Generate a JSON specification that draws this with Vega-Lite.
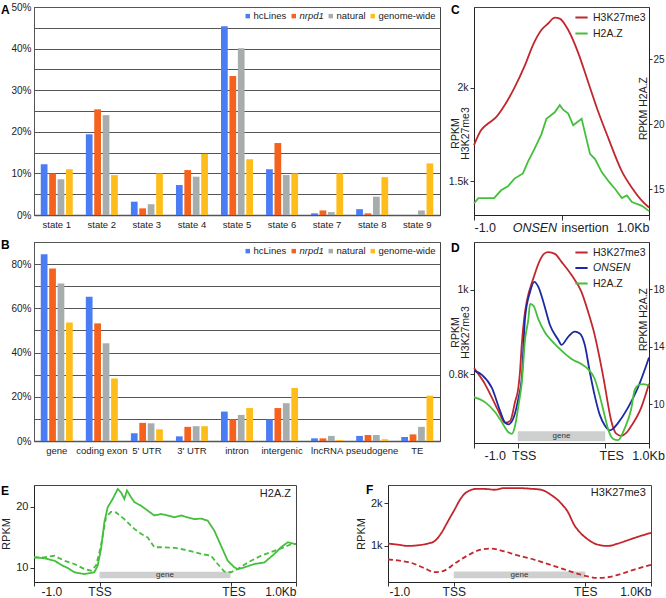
{
 "$schema": "https://vega.github.io/schema/vega-lite/v6.json",
 "background": "white",
 "padding": {"left": 0, "top": 1, "right": 0, "bottom": 0},
 "config": {
  "font": "Liberation Sans",
  "view": {"stroke": "#444", "strokeWidth": 1},
  "axis": {"labelFont": "Liberation Sans", "titleFont": "Liberation Sans", "labelColor": "#222", "titleColor": "#222", "domainColor": "#333", "tickColor": "#333", "grid": false, "titleFontWeight": "normal", "labelOverlap": false, "labelBound": false},
  "legend": {"labelFont": "Liberation Sans", "labelColor": "#222"},
  "title": {"font": "Liberation Sans", "fontWeight": "bold", "fontSize": 12, "anchor": "start", "frame": "group", "offset": 0, "color": "#000"}
 },
 "datasets": {
  "A": [
   {"cat":"state 1","grp":"hcLines","pct":12.2},{"cat":"state 1","grp":"nrpd1","pct":10.0},{"cat":"state 1","grp":"natural","pct":8.6},{"cat":"state 1","grp":"genome-wide","pct":11.0},
   {"cat":"state 2","grp":"hcLines","pct":19.4},{"cat":"state 2","grp":"nrpd1","pct":25.4},{"cat":"state 2","grp":"natural","pct":24.0},{"cat":"state 2","grp":"genome-wide","pct":9.6},
   {"cat":"state 3","grp":"hcLines","pct":3.2},{"cat":"state 3","grp":"nrpd1","pct":1.6},{"cat":"state 3","grp":"natural","pct":2.6},{"cat":"state 3","grp":"genome-wide","pct":10.0},
   {"cat":"state 4","grp":"hcLines","pct":7.2},{"cat":"state 4","grp":"nrpd1","pct":10.8},{"cat":"state 4","grp":"natural","pct":9.2},{"cat":"state 4","grp":"genome-wide","pct":14.7},
   {"cat":"state 5","grp":"hcLines","pct":45.4},{"cat":"state 5","grp":"nrpd1","pct":33.4},{"cat":"state 5","grp":"natural","pct":40.1},{"cat":"state 5","grp":"genome-wide","pct":13.4},
   {"cat":"state 6","grp":"hcLines","pct":11.0},{"cat":"state 6","grp":"nrpd1","pct":17.3},{"cat":"state 6","grp":"natural","pct":9.6},{"cat":"state 6","grp":"genome-wide","pct":10.0},
   {"cat":"state 7","grp":"hcLines","pct":0.4},{"cat":"state 7","grp":"nrpd1","pct":1.1},{"cat":"state 7","grp":"natural","pct":0.7},{"cat":"state 7","grp":"genome-wide","pct":10.0},
   {"cat":"state 8","grp":"hcLines","pct":1.4},{"cat":"state 8","grp":"nrpd1","pct":0.4},{"cat":"state 8","grp":"natural","pct":4.4},{"cat":"state 8","grp":"genome-wide","pct":9.1},
   {"cat":"state 9","grp":"hcLines","pct":0.0},{"cat":"state 9","grp":"nrpd1","pct":0.0},{"cat":"state 9","grp":"natural","pct":1.1},{"cat":"state 9","grp":"genome-wide","pct":12.4}
  ],
  "B": [
   {"cat":"gene","grp":"hcLines","pct":84.5},{"cat":"gene","grp":"nrpd1","pct":78.0},{"cat":"gene","grp":"natural","pct":71.2},{"cat":"gene","grp":"genome-wide","pct":53.6},
   {"cat":"coding exon","grp":"hcLines","pct":65.2},{"cat":"coding exon","grp":"nrpd1","pct":53.2},{"cat":"coding exon","grp":"natural","pct":44.2},{"cat":"coding exon","grp":"genome-wide","pct":28.3},
   {"cat":"5' UTR","grp":"hcLines","pct":3.5},{"cat":"5' UTR","grp":"nrpd1","pct":8.2},{"cat":"5' UTR","grp":"natural","pct":8.0},{"cat":"5' UTR","grp":"genome-wide","pct":5.3},
   {"cat":"3' UTR","grp":"hcLines","pct":2.1},{"cat":"3' UTR","grp":"nrpd1","pct":6.4},{"cat":"3' UTR","grp":"natural","pct":6.7},{"cat":"3' UTR","grp":"genome-wide","pct":6.7},
   {"cat":"intron","grp":"hcLines","pct":13.3},{"cat":"intron","grp":"nrpd1","pct":9.8},{"cat":"intron","grp":"natural","pct":11.8},{"cat":"intron","grp":"genome-wide","pct":14.9},
   {"cat":"intergenic","grp":"hcLines","pct":9.8},{"cat":"intergenic","grp":"nrpd1","pct":14.9},{"cat":"intergenic","grp":"natural","pct":17.1},{"cat":"intergenic","grp":"genome-wide","pct":24.0},
   {"cat":"lncRNA","grp":"hcLines","pct":1.2},{"cat":"lncRNA","grp":"nrpd1","pct":1.2},{"cat":"lncRNA","grp":"natural","pct":2.3},{"cat":"lncRNA","grp":"genome-wide","pct":0.5},
   {"cat":"pseudogene","grp":"hcLines","pct":2.3},{"cat":"pseudogene","grp":"nrpd1","pct":2.7},{"cat":"pseudogene","grp":"natural","pct":2.7},{"cat":"pseudogene","grp":"genome-wide","pct":0.8},
   {"cat":"TE","grp":"hcLines","pct":1.8},{"cat":"TE","grp":"nrpd1","pct":3.0},{"cat":"TE","grp":"natural","pct":6.4},{"cat":"TE","grp":"genome-wide","pct":20.5}
  ],
  "C": [
   {"pos":-1000,"track":"H3K27me3","rpkm":1693},{"pos":-920,"track":"H3K27me3","rpkm":1772},{"pos":-843,"track":"H3K27me3","rpkm":1807},{"pos":-747,"track":"H3K27me3","rpkm":1842},{"pos":-652,"track":"H3K27me3","rpkm":1904},{"pos":-537,"track":"H3K27me3","rpkm":2000},{"pos":-422,"track":"H3K27me3","rpkm":2114},{"pos":-325,"track":"H3K27me3","rpkm":2228},{"pos":-230,"track":"H3K27me3","rpkm":2307},{"pos":-153,"track":"H3K27me3","rpkm":2342},{"pos":-77,"track":"H3K27me3","rpkm":2373},{"pos":-20,"track":"H3K27me3","rpkm":2368},{"pos":77,"track":"H3K27me3","rpkm":2307},{"pos":192,"track":"H3K27me3","rpkm":2184},{"pos":307,"track":"H3K27me3","rpkm":2026},{"pos":422,"track":"H3K27me3","rpkm":1868},{"pos":537,"track":"H3K27me3","rpkm":1728},{"pos":690,"track":"H3K27me3","rpkm":1553},{"pos":805,"track":"H3K27me3","rpkm":1465},{"pos":920,"track":"H3K27me3","rpkm":1395},{"pos":1000,"track":"H3K27me3","rpkm":1360},
   {"pos":-1000,"track":"H2A.Z","rpkm":13.9},{"pos":-950,"track":"H2A.Z","rpkm":14.3},{"pos":-850,"track":"H2A.Z","rpkm":14.3},{"pos":-770,"track":"H2A.Z","rpkm":14.3},{"pos":-690,"track":"H2A.Z","rpkm":14.9},{"pos":-613,"track":"H2A.Z","rpkm":15.2},{"pos":-537,"track":"H2A.Z","rpkm":15.8},{"pos":-441,"track":"H2A.Z","rpkm":16.2},{"pos":-383,"track":"H2A.Z","rpkm":17.1},{"pos":-307,"track":"H2A.Z","rpkm":18.1},{"pos":-230,"track":"H2A.Z","rpkm":19.2},{"pos":-172,"track":"H2A.Z","rpkm":20.4},{"pos":-77,"track":"H2A.Z","rpkm":20.9},{"pos":-20,"track":"H2A.Z","rpkm":21.45},{"pos":19,"track":"H2A.Z","rpkm":21.1},{"pos":77,"track":"H2A.Z","rpkm":20.8},{"pos":134,"track":"H2A.Z","rpkm":19.9},{"pos":230,"track":"H2A.Z","rpkm":20.4},{"pos":326,"track":"H2A.Z","rpkm":17.7},{"pos":383,"track":"H2A.Z","rpkm":17.3},{"pos":460,"track":"H2A.Z","rpkm":16.3},{"pos":537,"track":"H2A.Z","rpkm":15.6},{"pos":613,"track":"H2A.Z","rpkm":15.0},{"pos":690,"track":"H2A.Z","rpkm":14.3},{"pos":747,"track":"H2A.Z","rpkm":14.5},{"pos":805,"track":"H2A.Z","rpkm":14.0},{"pos":920,"track":"H2A.Z","rpkm":13.7},{"pos":1000,"track":"H2A.Z","rpkm":13.3}
  ],
  "D": [
   {"pos":0,"track":"H3K27me3","rpkm":815},{"pos":258,"track":"H3K27me3","rpkm":776},{"pos":409,"track":"H3K27me3","rpkm":745},{"pos":561,"track":"H3K27me3","rpkm":713},{"pos":712,"track":"H3K27me3","rpkm":686},{"pos":826,"track":"H3K27me3","rpkm":690},{"pos":940,"track":"H3K27me3","rpkm":736},{"pos":1016,"track":"H3K27me3","rpkm":770},{"pos":1054,"track":"H3K27me3","rpkm":810},{"pos":1091,"track":"H3K27me3","rpkm":870},{"pos":1150,"track":"H3K27me3","rpkm":935},{"pos":1205,"track":"H3K27me3","rpkm":972},{"pos":1357,"track":"H3K27me3","rpkm":1027},{"pos":1508,"track":"H3K27me3","rpkm":1070},{"pos":1600,"track":"H3K27me3","rpkm":1085},{"pos":1698,"track":"H3K27me3","rpkm":1089},{"pos":1850,"track":"H3K27me3","rpkm":1085},{"pos":2001,"track":"H3K27me3","rpkm":1066},{"pos":2229,"track":"H3K27me3","rpkm":1035},{"pos":2456,"track":"H3K27me3","rpkm":995},{"pos":2608,"track":"H3K27me3","rpkm":948},{"pos":2759,"track":"H3K27me3","rpkm":893},{"pos":2873,"track":"H3K27me3","rpkm":838},{"pos":2987,"track":"H3K27me3","rpkm":776},{"pos":3062,"track":"H3K27me3","rpkm":730},{"pos":3138,"track":"H3K27me3","rpkm":690},{"pos":3252,"track":"H3K27me3","rpkm":660},{"pos":3365,"track":"H3K27me3","rpkm":655},{"pos":3480,"track":"H3K27me3","rpkm":662},{"pos":3593,"track":"H3K27me3","rpkm":678},{"pos":3820,"track":"H3K27me3","rpkm":721},{"pos":4000,"track":"H3K27me3","rpkm":778},
   {"pos":0,"track":"ONSEN","rpkm":809},{"pos":182,"track":"ONSEN","rpkm":799},{"pos":409,"track":"ONSEN","rpkm":768},{"pos":599,"track":"ONSEN","rpkm":713},{"pos":712,"track":"ONSEN","rpkm":686},{"pos":788,"track":"ONSEN","rpkm":682},{"pos":902,"track":"ONSEN","rpkm":697},{"pos":1016,"track":"ONSEN","rpkm":744},{"pos":1092,"track":"ONSEN","rpkm":791},{"pos":1167,"track":"ONSEN","rpkm":933},{"pos":1281,"track":"ONSEN","rpkm":995},{"pos":1380,"track":"ONSEN","rpkm":1019},{"pos":1471,"track":"ONSEN","rpkm":1007},{"pos":1584,"track":"ONSEN","rpkm":972},{"pos":1736,"track":"ONSEN","rpkm":917},{"pos":1925,"track":"ONSEN","rpkm":882},{"pos":2001,"track":"ONSEN","rpkm":870},{"pos":2153,"track":"ONSEN","rpkm":889},{"pos":2304,"track":"ONSEN","rpkm":901},{"pos":2418,"track":"ONSEN","rpkm":897},{"pos":2532,"track":"ONSEN","rpkm":870},{"pos":2645,"track":"ONSEN","rpkm":807},{"pos":2759,"track":"ONSEN","rpkm":750},{"pos":2873,"track":"ONSEN","rpkm":705},{"pos":2987,"track":"ONSEN","rpkm":680},{"pos":3100,"track":"ONSEN","rpkm":668},{"pos":3180,"track":"ONSEN","rpkm":672},{"pos":3290,"track":"ONSEN","rpkm":685},{"pos":3517,"track":"ONSEN","rpkm":721},{"pos":3744,"track":"ONSEN","rpkm":768},{"pos":4000,"track":"ONSEN","rpkm":840},
   {"pos":0,"track":"H2A.Z","rpkm":10.49},{"pos":258,"track":"H2A.Z","rpkm":10.13},{"pos":485,"track":"H2A.Z","rpkm":9.44},{"pos":637,"track":"H2A.Z","rpkm":8.75},{"pos":788,"track":"H2A.Z","rpkm":8.05},{"pos":864,"track":"H2A.Z","rpkm":7.94},{"pos":940,"track":"H2A.Z","rpkm":8.52},{"pos":1016,"track":"H2A.Z","rpkm":9.91},{"pos":1092,"track":"H2A.Z","rpkm":11.5},{"pos":1167,"track":"H2A.Z","rpkm":14.5},{"pos":1243,"track":"H2A.Z","rpkm":15.93},{"pos":1281,"track":"H2A.Z","rpkm":16.98},{"pos":1357,"track":"H2A.Z","rpkm":16.86},{"pos":1471,"track":"H2A.Z","rpkm":15.93},{"pos":1622,"track":"H2A.Z","rpkm":15.0},{"pos":1774,"track":"H2A.Z","rpkm":14.43},{"pos":2001,"track":"H2A.Z","rpkm":13.73},{"pos":2229,"track":"H2A.Z","rpkm":13.15},{"pos":2456,"track":"H2A.Z","rpkm":12.8},{"pos":2608,"track":"H2A.Z","rpkm":12.45},{"pos":2759,"track":"H2A.Z","rpkm":11.76},{"pos":2873,"track":"H2A.Z","rpkm":10.6},{"pos":2987,"track":"H2A.Z","rpkm":9.2},{"pos":3062,"track":"H2A.Z","rpkm":8.3},{"pos":3176,"track":"H2A.Z","rpkm":7.6},{"pos":3290,"track":"H2A.Z","rpkm":7.5},{"pos":3441,"track":"H2A.Z","rpkm":8.3},{"pos":3593,"track":"H2A.Z","rpkm":9.67},{"pos":3669,"track":"H2A.Z","rpkm":10.95},{"pos":3744,"track":"H2A.Z","rpkm":11.3},{"pos":3850,"track":"H2A.Z","rpkm":11.4},{"pos":4000,"track":"H2A.Z","rpkm":11.3}
  ],
  "E": [
   {"pos":0,"genes":"ONSEN-inserted genes","rpkm":11.75},{"pos":158,"genes":"ONSEN-inserted genes","rpkm":11.59},{"pos":310,"genes":"ONSEN-inserted genes","rpkm":11.2},{"pos":438,"genes":"ONSEN-inserted genes","rpkm":10.38},{"pos":514,"genes":"ONSEN-inserted genes","rpkm":10.0},{"pos":616,"genes":"ONSEN-inserted genes","rpkm":9.29},{"pos":769,"genes":"ONSEN-inserted genes","rpkm":9.0},{"pos":921,"genes":"ONSEN-inserted genes","rpkm":9.29},{"pos":972,"genes":"ONSEN-inserted genes","rpkm":10.38},{"pos":1023,"genes":"ONSEN-inserted genes","rpkm":13.1},{"pos":1074,"genes":"ONSEN-inserted genes","rpkm":17.5},{"pos":1125,"genes":"ONSEN-inserted genes","rpkm":19.95},{"pos":1201,"genes":"ONSEN-inserted genes","rpkm":21.3},{"pos":1278,"genes":"ONSEN-inserted genes","rpkm":22.95},{"pos":1328,"genes":"ONSEN-inserted genes","rpkm":22.4},{"pos":1379,"genes":"ONSEN-inserted genes","rpkm":21.3},{"pos":1420,"genes":"ONSEN-inserted genes","rpkm":22.7},{"pos":1481,"genes":"ONSEN-inserted genes","rpkm":21.6},{"pos":1532,"genes":"ONSEN-inserted genes","rpkm":20.8},{"pos":1634,"genes":"ONSEN-inserted genes","rpkm":20.2},{"pos":1736,"genes":"ONSEN-inserted genes","rpkm":19.4},{"pos":1837,"genes":"ONSEN-inserted genes","rpkm":18.6},{"pos":1939,"genes":"ONSEN-inserted genes","rpkm":18.85},{"pos":2041,"genes":"ONSEN-inserted genes","rpkm":18.6},{"pos":2143,"genes":"ONSEN-inserted genes","rpkm":18.3},{"pos":2245,"genes":"ONSEN-inserted genes","rpkm":18.6},{"pos":2346,"genes":"ONSEN-inserted genes","rpkm":18.3},{"pos":2448,"genes":"ONSEN-inserted genes","rpkm":18.0},{"pos":2550,"genes":"ONSEN-inserted genes","rpkm":18.1},{"pos":2652,"genes":"ONSEN-inserted genes","rpkm":17.75},{"pos":2754,"genes":"ONSEN-inserted genes","rpkm":16.1},{"pos":2855,"genes":"ONSEN-inserted genes","rpkm":13.65},{"pos":2957,"genes":"ONSEN-inserted genes","rpkm":11.2},{"pos":3059,"genes":"ONSEN-inserted genes","rpkm":10.1},{"pos":3110,"genes":"ONSEN-inserted genes","rpkm":9.8},{"pos":3212,"genes":"ONSEN-inserted genes","rpkm":10.1},{"pos":3364,"genes":"ONSEN-inserted genes","rpkm":10.65},{"pos":3517,"genes":"ONSEN-inserted genes","rpkm":10.9},{"pos":3670,"genes":"ONSEN-inserted genes","rpkm":12.3},{"pos":3772,"genes":"ONSEN-inserted genes","rpkm":13.4},{"pos":3873,"genes":"ONSEN-inserted genes","rpkm":14.2},{"pos":4000,"genes":"ONSEN-inserted genes","rpkm":13.9},
   {"pos":0,"genes":"all genes","rpkm":11.75},{"pos":158,"genes":"all genes","rpkm":11.75},{"pos":310,"genes":"all genes","rpkm":12.0},{"pos":463,"genes":"all genes","rpkm":11.2},{"pos":616,"genes":"all genes","rpkm":10.65},{"pos":769,"genes":"all genes","rpkm":9.83},{"pos":870,"genes":"all genes","rpkm":9.56},{"pos":947,"genes":"all genes","rpkm":10.38},{"pos":1023,"genes":"all genes","rpkm":13.65},{"pos":1099,"genes":"all genes","rpkm":18.3},{"pos":1176,"genes":"all genes","rpkm":19.2},{"pos":1252,"genes":"all genes","rpkm":19.1},{"pos":1379,"genes":"all genes","rpkm":18.0},{"pos":1532,"genes":"all genes","rpkm":16.4},{"pos":1634,"genes":"all genes","rpkm":15.6},{"pos":1736,"genes":"all genes","rpkm":15.0},{"pos":1837,"genes":"all genes","rpkm":13.4},{"pos":1939,"genes":"all genes","rpkm":13.4},{"pos":2143,"genes":"all genes","rpkm":13.3},{"pos":2346,"genes":"all genes","rpkm":12.9},{"pos":2550,"genes":"all genes","rpkm":12.3},{"pos":2703,"genes":"all genes","rpkm":12.0},{"pos":2805,"genes":"all genes","rpkm":10.65},{"pos":2906,"genes":"all genes","rpkm":9.4},{"pos":3008,"genes":"all genes","rpkm":9.3},{"pos":3110,"genes":"all genes","rpkm":9.83},{"pos":3263,"genes":"all genes","rpkm":10.9},{"pos":3466,"genes":"all genes","rpkm":12.0},{"pos":3670,"genes":"all genes","rpkm":12.8},{"pos":3823,"genes":"all genes","rpkm":13.4},{"pos":3924,"genes":"all genes","rpkm":13.9},{"pos":4000,"genes":"all genes","rpkm":13.9}
  ],
  "F": [
   {"pos":0,"genes":"ONSEN-inserted genes","rpkm":1048},{"pos":147,"genes":"ONSEN-inserted genes","rpkm":1024},{"pos":299,"genes":"ONSEN-inserted genes","rpkm":993},{"pos":451,"genes":"ONSEN-inserted genes","rpkm":1008},{"pos":603,"genes":"ONSEN-inserted genes","rpkm":1048},{"pos":705,"genes":"ONSEN-inserted genes","rpkm":1103},{"pos":806,"genes":"ONSEN-inserted genes","rpkm":1286},{"pos":908,"genes":"ONSEN-inserted genes","rpkm":1563},{"pos":1009,"genes":"ONSEN-inserted genes","rpkm":1841},{"pos":1110,"genes":"ONSEN-inserted genes","rpkm":2119},{"pos":1212,"genes":"ONSEN-inserted genes","rpkm":2278},{"pos":1364,"genes":"ONSEN-inserted genes","rpkm":2341},{"pos":1516,"genes":"ONSEN-inserted genes","rpkm":2333},{"pos":1617,"genes":"ONSEN-inserted genes","rpkm":2318},{"pos":1769,"genes":"ONSEN-inserted genes","rpkm":2357},{"pos":1972,"genes":"ONSEN-inserted genes","rpkm":2357},{"pos":2175,"genes":"ONSEN-inserted genes","rpkm":2341},{"pos":2327,"genes":"ONSEN-inserted genes","rpkm":2318},{"pos":2479,"genes":"ONSEN-inserted genes","rpkm":2198},{"pos":2631,"genes":"ONSEN-inserted genes","rpkm":2000},{"pos":2733,"genes":"ONSEN-inserted genes","rpkm":1802},{"pos":2834,"genes":"ONSEN-inserted genes","rpkm":1484},{"pos":2936,"genes":"ONSEN-inserted genes","rpkm":1286},{"pos":3037,"genes":"ONSEN-inserted genes","rpkm":1151},{"pos":3189,"genes":"ONSEN-inserted genes","rpkm":1024},{"pos":3341,"genes":"ONSEN-inserted genes","rpkm":993},{"pos":3493,"genes":"ONSEN-inserted genes","rpkm":1048},{"pos":3645,"genes":"ONSEN-inserted genes","rpkm":1127},{"pos":3797,"genes":"ONSEN-inserted genes","rpkm":1207},{"pos":4000,"genes":"ONSEN-inserted genes","rpkm":1302},
   {"pos":0,"genes":"all genes","rpkm":674},{"pos":147,"genes":"all genes","rpkm":651},{"pos":350,"genes":"all genes","rpkm":596},{"pos":553,"genes":"all genes","rpkm":469},{"pos":705,"genes":"all genes","rpkm":374},{"pos":857,"genes":"all genes","rpkm":413},{"pos":1009,"genes":"all genes","rpkm":572},{"pos":1212,"genes":"all genes","rpkm":770},{"pos":1415,"genes":"all genes","rpkm":905},{"pos":1567,"genes":"all genes","rpkm":929},{"pos":1769,"genes":"all genes","rpkm":865},{"pos":1972,"genes":"all genes","rpkm":770},{"pos":2175,"genes":"all genes","rpkm":691},{"pos":2378,"genes":"all genes","rpkm":596},{"pos":2581,"genes":"all genes","rpkm":493},{"pos":2783,"genes":"all genes","rpkm":389},{"pos":2986,"genes":"all genes","rpkm":294},{"pos":3189,"genes":"all genes","rpkm":239},{"pos":3341,"genes":"all genes","rpkm":255},{"pos":3544,"genes":"all genes","rpkm":334},{"pos":3747,"genes":"all genes","rpkm":437},{"pos":4000,"genes":"all genes","rpkm":548}
  ],
  "gene": [{"feature": "gene", "start": 1000, "end": 3000}]
 },
 "resolve": {"scale": {"color": "independent", "strokeDash": "independent", "xOffset": "independent"}, "legend": {"color": "independent"}},
 "spacing": 21,
 "vconcat": [
  {
   "resolve": {"scale": {"color": "independent", "xOffset": "independent"}, "legend": {"color": "independent"}},
   "bounds": "flush",
   "align": "each",
   "columns": 2,
   "spacing": {"row": 27, "column": 34},
   "concat": [
    {
     "width": 406, "height": 208,
     "title": {"text": "A", "dx": -33, "dy": 19},
     "data": {"name": "A"},
     "mark": {"type": "bar"},
     "encoding": {
      "x": {"field": "cat", "type": "nominal", "sort": null, "scale": {"paddingInner": 0.29, "paddingOuter": 0.15}, "axis": {"title": null, "labelAngle": 0, "ticks": false, "labelFontSize": 9.5, "labelPadding": 4, "domainColor": "#555", "domainWidth": 1.5}},
      "xOffset": {"field": "grp", "type": "nominal", "sort": ["hcLines", "nrpd1", "natural", "genome-wide"], "scale": {"paddingInner": 0.2}},
      "y": {"field": "pct", "type": "quantitative", "scale": {"domain": [0, 50], "nice": false}, "axis": {"title": null, "values": [0, 5, 10, 15, 20, 25, 30, 35, 40, 45, 50], "grid": true, "gridColor": "#555", "ticks": false, "labelExpr": "datum.value % 10 == 0 ? datum.value + '%' : ''", "labelFontSize": 10, "labelPadding": 3, "domainColor": "#555"}},
      "color": {"field": "grp", "type": "nominal", "scale": {"domain": ["hcLines", "nrpd1", "natural", "genome-wide"], "range": ["#4a7cf3", "#f5621e", "#a7adad", "#ffbd1c"]}, "legend": {"orient": "top-right", "direction": "horizontal", "title": null, "symbolType": "square", "symbolSize": 20, "symbolStrokeWidth": 0, "labelFontSize": 9.5, "offset": 4, "padding": 0, "columnPadding": 2, "labelOffset": 1, "encode": {"labels": {"update": {"fontStyle": {"signal": "datum.label == 'nrpd1' ? 'italic' : 'normal'"}}}}}}
     }
    },
    {
     "width": 175, "height": 208,
     "title": {"text": "C", "dx": -23, "dy": 14},
     "data": {"name": "C"},
     "encoding": {
      "x": {"field": "pos", "type": "quantitative", "scale": {"domain": [-1000, 1000], "nice": false}, "axis": {"title": null, "values": [-1000, -310, 0, 264, 1000], "labelExpr": "datum.value == -1000 ? '-1.0' : datum.value == -310 ? 'ONSEN' : datum.value == 264 ? 'insertion' : datum.value == 1000 ? '1.0Kb' : ''", "labelFlush": true, "labelFontSize": 12.5, "tickSize": 5, "labelPadding": 1, "domainColor": "#222", "labelFontStyle": {"condition": {"test": "datum.value == -310", "value": "italic"}, "value": "normal"}, "tickOpacity": {"condition": {"test": "datum.value == -310 || datum.value == 264", "value": 0}, "value": 1}}}
     },
     "layer": [
      {
       "transform": [{"filter": "datum.track == 'H3K27me3'"}],
       "mark": {"type": "line", "interpolate": "monotone", "strokeWidth": 1.8},
       "encoding": {
        "y": {"field": "rpkm", "type": "quantitative", "scale": {"domain": [1320, 2430], "nice": false, "zero": false}, "axis": {"title": ["RPKM", "H3K27me3"], "values": [1500, 2000], "labelExpr": "datum.value / 1000 + 'k'", "labelFontSize": 10.5, "tickSize": 4, "labelPadding": 2, "titleAngle": 270, "titleAlign": "center", "titleBaseline": "top", "titleX": -24, "titleY": 126, "titleFontSize": 10.5, "titleLineHeight": 10, "domainColor": "#222"}},
        "color": {"field": "track", "type": "nominal", "scale": {"domain": ["H3K27me3", "H2A.Z"], "range": ["#c1272d", "#45bf3b"]}, "legend": {"orient": "top-right", "title": null, "symbolType": "stroke", "symbolStrokeWidth": 2, "symbolSize": 150, "labelFontSize": 10.5, "offset": 3, "padding": 0, "rowPadding": 3, "labelOffset": 4}}
       }
      },
      {
       "transform": [{"filter": "datum.track == 'H2A.Z'"}],
       "mark": {"type": "line", "strokeWidth": 1.8},
       "encoding": {
        "y": {"field": "rpkm", "type": "quantitative", "scale": {"domain": [13, 29], "nice": false, "zero": false}, "axis": {"orient": "right", "title": "RPKM H2A.Z", "values": [15, 20, 25], "labelFontSize": 10, "tickSize": 3, "labelPadding": 1, "titleAngle": 270, "titleAlign": "center", "titleBaseline": "middle", "titleX": -6, "titleY": 101, "titleFontSize": 10.5, "domainColor": "#222"}},
        "color": {"field": "track", "type": "nominal", "scale": {"domain": ["H3K27me3", "H2A.Z"], "range": ["#c1272d", "#45bf3b"]}}
       }
      }
     ],
     "resolve": {"scale": {"y": "independent"}}
    },
    {
     "width": 406, "height": 199,
     "title": {"text": "B", "dx": -33, "dy": 19},
     "data": {"name": "B"},
     "mark": {"type": "bar"},
     "encoding": {
      "x": {"field": "cat", "type": "nominal", "sort": null, "scale": {"paddingInner": 0.29, "paddingOuter": 0.15}, "axis": {"title": null, "labelAngle": 0, "ticks": false, "labelFontSize": 9.5, "labelPadding": 4, "domainColor": "#555", "domainWidth": 1.5}},
      "xOffset": {"field": "grp", "type": "nominal", "sort": ["hcLines", "nrpd1", "natural", "genome-wide"], "scale": {"paddingInner": 0.2}},
      "y": {"field": "pct", "type": "quantitative", "scale": {"domain": [0, 90], "nice": false}, "axis": {"title": null, "values": [0, 10, 20, 30, 40, 50, 60, 70, 80, 90], "grid": true, "gridColor": "#555", "ticks": false, "labelExpr": "datum.value % 20 == 0 ? datum.value + '%' : ''", "labelFontSize": 10, "labelPadding": 3, "domainColor": "#555"}},
      "color": {"field": "grp", "type": "nominal", "scale": {"domain": ["hcLines", "nrpd1", "natural", "genome-wide"], "range": ["#4a7cf3", "#f5621e", "#a7adad", "#ffbd1c"]}, "legend": {"orient": "top-right", "direction": "horizontal", "title": null, "symbolType": "square", "symbolSize": 20, "symbolStrokeWidth": 0, "labelFontSize": 9.5, "offset": 4, "padding": 0, "columnPadding": 2, "labelOffset": 1, "encode": {"labels": {"update": {"fontStyle": {"signal": "datum.label == 'nrpd1' ? 'italic' : 'normal'"}}}}}}
     }
    },
    {
     "width": 175, "height": 201,
     "title": {"text": "D", "dx": -23, "dy": 17},
     "layer": [
      {
       "layer": [
        {
         "data": {"name": "gene"},
         "mark": {"type": "rect", "color": "#cdd0cf"},
         "encoding": {
          "x": {"field": "start", "type": "quantitative", "scale": {"domain": [0, 4000], "nice": false}, "axis": {"title": null, "values": [0, 1000, 3000, 4000], "labelExpr": "datum.value == 0 ? '-1.0' : datum.value == 1000 ? 'TSS' : datum.value == 3000 ? 'TES' : '1.0Kb'", "labelFlush": false, "labelFontSize": 12.5, "tickSize": 5, "labelPadding": 1, "domainColor": "#222", "labelAlign": {"condition": {"test": "datum.value == 0", "value": "left"}, "value": "center"}, "labelOffset": {"condition": [{"test": "datum.value == 0", "value": 10}, {"test": "datum.value == 4000", "value": -1}], "value": 6}}},
          "x2": {"field": "end"},
          "y": {"datum": 642, "type": "quantitative", "scale": {"domain": [638, 1113], "nice": false, "zero": false}, "axis": {"title": ["RPKM", "H3K27me3"], "values": [800, 1000], "labelExpr": "datum.value / 1000 + 'k'", "labelFontSize": 10.5, "tickSize": 4, "labelPadding": 2, "titleAngle": 270, "titleAlign": "center", "titleBaseline": "top", "titleX": -24, "titleY": 90, "titleFontSize": 10.5, "titleLineHeight": 10, "domainColor": "#222"}},
          "y2": {"datum": 666}
         }
        },
        {
         "data": {"name": "gene"},
         "mark": {"type": "text", "fontSize": 8, "color": "#333"},
         "encoding": {
          "x": {"datum": 2000, "type": "quantitative"},
          "y": {"datum": 654, "type": "quantitative"},
          "text": {"field": "feature"}
         }
        },
        {
         "data": {"name": "D"},
         "transform": [{"filter": "datum.track != 'H2A.Z'"}],
         "mark": {"type": "line", "interpolate": "monotone", "strokeWidth": 1.8},
         "encoding": {
          "x": {"field": "pos", "type": "quantitative"},
          "y": {"field": "rpkm", "type": "quantitative"},
          "color": {"field": "track", "type": "nominal", "scale": {"domain": ["H3K27me3", "ONSEN", "H2A.Z"], "range": ["#c1272d", "#1b2aa3", "#45bf3b"]}, "legend": {"orient": "top-right", "title": null, "symbolType": "stroke", "symbolStrokeWidth": 2, "symbolSize": 150, "labelFontSize": 10.5, "offset": 3, "padding": 0, "rowPadding": 2.5, "labelOffset": 4, "encode": {"labels": {"update": {"fontStyle": {"signal": "datum.label == 'ONSEN' ? 'italic' : 'normal'"}}}}}}
         }
        }
       ]
      },
      {
       "data": {"name": "D"},
       "transform": [{"filter": "datum.track == 'H2A.Z'"}],
       "mark": {"type": "line", "interpolate": "monotone", "strokeWidth": 1.8},
       "encoding": {
        "x": {"field": "pos", "type": "quantitative"},
        "y": {"field": "rpkm", "type": "quantitative", "scale": {"domain": [7.3, 21.3], "nice": false, "zero": false}, "axis": {"orient": "right", "title": "RPKM H2A.Z", "values": [10, 14, 18], "labelFontSize": 10, "tickSize": 3, "labelPadding": 1, "titleAngle": 270, "titleAlign": "center", "titleBaseline": "middle", "titleX": -6, "titleY": 77, "titleFontSize": 10.5, "domainColor": "#222"}},
        "color": {"field": "track", "type": "nominal", "scale": {"domain": ["H3K27me3", "ONSEN", "H2A.Z"], "range": ["#c1272d", "#1b2aa3", "#45bf3b"]}}
       }
      }
     ],
     "resolve": {"scale": {"y": "independent"}}
    }
   ]
  },
  {
   "resolve": {"scale": {"strokeDash": "independent"}},
   "bounds": "flush",
   "spacing": 92,
   "hconcat": [
    {
     "width": 262, "height": 97,
     "title": {"text": "E", "dx": -33, "dy": 17},
     "layer": [
      {
       "data": {"name": "gene"},
       "mark": {"type": "rect", "color": "#cdd0cf"},
       "encoding": {
        "x": {"field": "start", "type": "quantitative", "scale": {"domain": [0, 4000], "nice": false}, "axis": {"title": null, "values": [0, 1000, 3000, 4000], "labelExpr": "datum.value == 0 ? '-1.0' : datum.value == 1000 ? 'TSS' : datum.value == 3000 ? 'TES' : '1.0Kb'", "labelFlush": false, "labelFontSize": 12, "tickSize": 4, "labelPadding": 0, "domainColor": "#222", "labelAlign": {"condition": [{"test": "datum.value == 0", "value": "left"}, {"test": "datum.value == 4000", "value": "right"}], "value": "center"}, "labelOffset": {"condition": [{"test": "datum.value == 0", "value": 7}, {"test": "datum.value == 3000", "value": 3}], "value": 0}}},
        "x2": {"field": "end"},
        "y": {"datum": 8.3, "type": "quantitative", "scale": {"domain": [7.7, 23.6], "nice": false, "zero": false}, "axis": {"title": "RPKM", "values": [10, 20], "labelFontSize": 11, "tickSize": 4, "labelPadding": 2, "titleFontSize": 11, "titlePadding": 4, "domainColor": "#222"}},
        "y2": {"datum": 9.4}
       }
      },
      {
       "data": {"name": "gene"},
       "mark": {"type": "text", "fontSize": 8, "color": "#333"},
       "encoding": {"x": {"datum": 2000, "type": "quantitative"}, "y": {"datum": 8.85, "type": "quantitative"}, "text": {"field": "feature"}}
      },
      {
       "data": {"name": "E"},
       "mark": {"type": "line", "color": "#45bf3b", "strokeWidth": 1.8},
       "encoding": {
        "x": {"field": "pos", "type": "quantitative", "scale": {"domain": [0, 4000], "nice": false}},
        "y": {"field": "rpkm", "type": "quantitative", "scale": {"domain": [7.7, 23.6], "nice": false, "zero": false}},
        "strokeDash": {"field": "genes", "type": "nominal", "scale": {"domain": ["ONSEN-inserted genes", "all genes"], "range": [[1, 0], [5, 3]]}, "legend": null}
       }
      },
      {
       "data": {"values": [{"label": "H2A.Z"}]},
       "mark": {"type": "text", "align": "right", "baseline": "middle", "fontSize": 11, "color": "#222"},
       "encoding": {"x": {"datum": 3924, "type": "quantitative"}, "y": {"datum": 22.1, "type": "quantitative"}, "text": {"field": "label"}}
      }
     ]
    },
    {
     "width": 263, "height": 97,
     "title": {"text": "F", "dx": -22, "dy": 17},
     "layer": [
      {
       "data": {"name": "gene"},
       "mark": {"type": "rect", "color": "#cdd0cf"},
       "encoding": {
        "x": {"field": "start", "type": "quantitative", "scale": {"domain": [0, 4000], "nice": false}, "axis": {"title": null, "values": [0, 1000, 3000, 4000], "labelExpr": "datum.value == 0 ? '-1.0' : datum.value == 1000 ? 'TSS' : datum.value == 3000 ? 'TES' : '1.0Kb'", "labelFlush": false, "labelFontSize": 12, "tickSize": 4, "labelPadding": 0, "domainColor": "#222", "labelAlign": {"condition": [{"test": "datum.value == 0", "value": "left"}, {"test": "datum.value == 4000", "value": "right"}], "value": "center"}, "labelOffset": {"condition": {"test": "datum.value == 0", "value": 1}, "value": 0}}},
        "x2": {"field": "end"},
        "y": {"datum": 231, "type": "quantitative", "scale": {"domain": [143, 2430], "nice": false, "zero": false}, "axis": {"title": "RPKM", "values": [1000, 2000], "labelExpr": "datum.value / 1000 + 'k'", "labelFontSize": 11, "tickSize": 4, "labelPadding": 2, "titleFontSize": 11, "titlePadding": 4, "domainColor": "#222"}},
        "y2": {"datum": 389}
       }
      },
      {
       "data": {"name": "gene"},
       "mark": {"type": "text", "fontSize": 8, "color": "#333"},
       "encoding": {"x": {"datum": 2000, "type": "quantitative"}, "y": {"datum": 310, "type": "quantitative"}, "text": {"field": "feature"}}
      },
      {
       "data": {"name": "F"},
       "mark": {"type": "line", "color": "#c1272d", "strokeWidth": 1.8, "interpolate": "monotone"},
       "encoding": {
        "x": {"field": "pos", "type": "quantitative", "scale": {"domain": [0, 4000], "nice": false}},
        "y": {"field": "rpkm", "type": "quantitative", "scale": {"domain": [143, 2430], "nice": false, "zero": false}},
        "strokeDash": {"field": "genes", "type": "nominal", "scale": {"domain": ["ONSEN-inserted genes", "all genes"], "range": [[1, 0], [5, 3]]}, "legend": null}
       }
      },
      {
       "data": {"values": [{"label": "H3K27me3"}]},
       "mark": {"type": "text", "align": "right", "baseline": "middle", "fontSize": 11, "color": "#222"},
       "encoding": {"x": {"datum": 3922, "type": "quantitative"}, "y": {"datum": 2238, "type": "quantitative"}, "text": {"field": "label"}}
      }
     ]
    }
   ]
  }
 ]
}
